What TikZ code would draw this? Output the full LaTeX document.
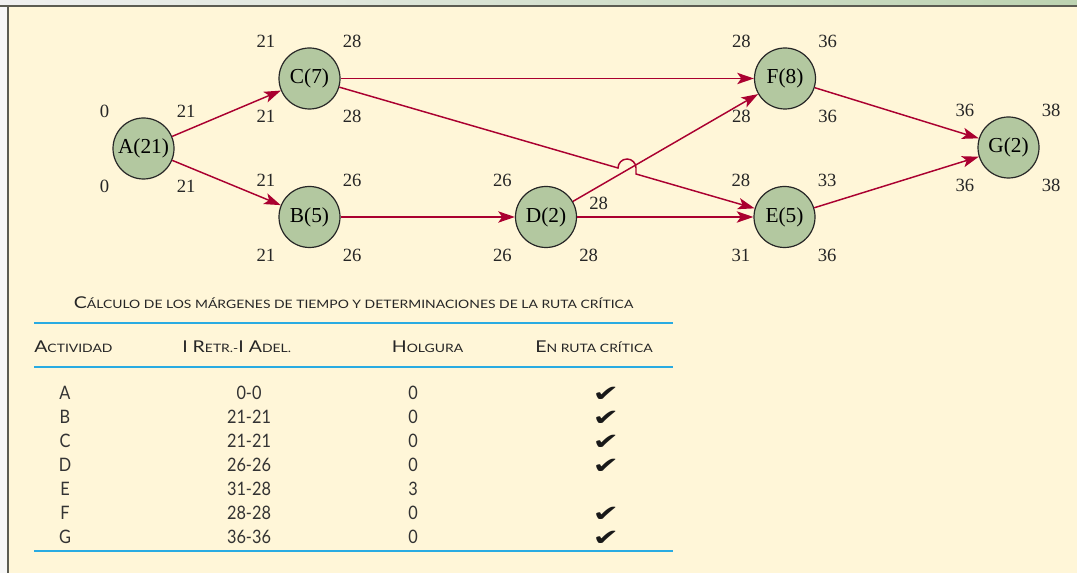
\documentclass[tikz,border=0pt]{standalone}
\usepackage{fontspec}
\usepackage{graphicx}
\setmainfont{Liberation Serif}
\newfontfamily\tabfont{Lato}[FakeStretch=0.88]
\newfontfamily\capfont{Lato}[FakeStretch=1.2]
\newfontfamily\symfont{DejaVu Sans}
\usetikzlibrary{arrows.meta}
\definecolor{crema}{RGB}{255,246,216}
\definecolor{salvia}{RGB}{179,200,160}
\definecolor{rojo}{RGB}{170,0,48}
\definecolor{cian}{RGB}{41,171,226}
\definecolor{marco}{RGB}{92,92,82}
\newcommand{\vers}[2]{{\fontsize{12.2}{14}\selectfont #1}{\fontsize{8.7}{10}\selectfont #2}}
\newcommand{\visto}{\scalebox{1.4}[1]{\symfont ✔}}

\begin{document}
\begin{tikzpicture}[x=0.75pt,y=-0.75pt,
act/.style={circle,draw=black!85,line width=0.9pt,fill=salvia,minimum size=45.75pt,inner sep=0pt,font=\fontsize{16}{18}\selectfont},
num/.style={inner sep=0pt,text height=9.5pt,text depth=0pt,font=\fontsize{14}{16}\selectfont,text=black!85},
arr/.style={draw=rojo,line width=1.1pt,-{Stealth[length=12.5pt,width=8.5pt,inset=3pt]}},
cel/.style={inner sep=0pt,text height=10pt,text depth=0pt,font=\tabfont\fontsize{13.9}{16}\selectfont,text=black!80},
cab/.style={inner sep=0pt,text height=8.8pt,text depth=0pt,font=\capfont,text=black!85},
raya/.style={draw=cian,line width=1.5pt}]
\useasboundingbox (0,0) rectangle (1077,573);
\shade[left color=black!6,right color={rgb,255:red,189;green,211;blue,177}] (0,0) rectangle (1077,5);
\fill[marco] (0,5) rectangle (1077,7);
\fill[black!3] (0,7) rectangle (7,573);
\fill[marco] (7,7) rectangle (8.5,573);
\fill[crema] (8.5,7) rectangle (1077,573);

\node[act] (A) at (143.5,148.5) {A(21)};
\node[act] (C) at (309.5,78.5) {C(7)};
\node[act] (B) at (309.5,217) {B(5)};
\node[act] (D) at (546,217) {D(2)};
\node[act] (E) at (784.5,217) {E(5)};
\node[act] (F) at (785,78.5) {F(8)};
\node[act] (G) at (1008.5,147.5) {G(2)};
\foreach \n/\a/\b/\c/\d in {A/0/21/0/21,B/21/26/21/26,C/21/28/21/28,E/28/33/31/36,F/28/36/28/36,G/36/38/36/38}{
\node[num,anchor=east] (\n1) at ([shift={(-34,-37)}]\n.center) {\a};
\node[num,anchor=west] (\n2) at ([shift={(33,-37)}]\n.center) {\b};
\node[num,anchor=east] (\n3) at ([shift={(-34,38)}]\n.center) {\c};
\node[num,anchor=west] (\n4) at ([shift={(33,38)}]\n.center) {\d};
}
\node[num,anchor=east] (D1) at ([shift={(-34,-37)}]D.center) {26};
\node[num,anchor=west] (D2) at ([shift={(43,-14)}]D.center) {28};
\node[num,anchor=east] (D3) at ([shift={(-34,38)}]D.center) {26};
\node[num,anchor=west] (D4) at ([shift={(33,38)}]D.center) {28};

\draw[arr] (A) -- (C);
\draw[arr] (A) -- (B);
\draw[arr] (C) -- (F);
\draw[arr] (B) -- (D);
\draw[arr] (D) -- (E);
\draw[arr] (D) -- (F);
\draw[arr] (F) -- (G);
\draw[arr] (E) -- (G);
\coordinate (s1) at (618,168);
\coordinate (s2) at (636,174);
\draw[arr] (C) -- (s1) arc[start angle=180,end angle=0,radius=6.75pt] -- (s2) -- (E);

\node[cab] (titulo) at (353.5,303) {\vers{C}{ÁLCULO DE LOS MÁRGENES DE TIEMPO Y DETERMINACIONES DE LA RUTA CRÍTICA}};
\draw[raya] (34,323) -- (673,323);
\node[cab,anchor=west] (h1) at (34,347) {\vers{A}{CTIVIDAD}};
\node[cab,anchor=west] (h2) at (182,347) {\vers{I R}{ETR.-}\vers{I A}{DEL.}};
\node[cab] (h3) at (427.5,347) {\vers{H}{OLGURA}};
\node[cab] (h4) at (594,347) {\vers{E}{N RUTA CRÍTICA}};
\draw[raya] (34,367) -- (673,367);
\foreach \l/\r/\h/\m [count=\i from 0] in {A/0-0/0/\visto,B/21-21/0/\visto,C/21-21/0/\visto,D/26-26/0/\visto,E/31-28/3/{},F/28-28/0/\visto,G/36-36/0/\visto}{
\node[cel] (l\l) at (65,{393+24*\i}) {\l};
\node[cel] (r\l) at (249,{393+24*\i}) {\r};
\node[cel] (g\l) at (413,{393+24*\i}) {\h};
\node[cel,font=\fontsize{17}{18}\selectfont,text height=12pt,text=black!90] (m\l) at (606,{393+24*\i}) {\m};
}
\draw[raya] (34,551) -- (673,551);
\end{tikzpicture}
\end{document}
